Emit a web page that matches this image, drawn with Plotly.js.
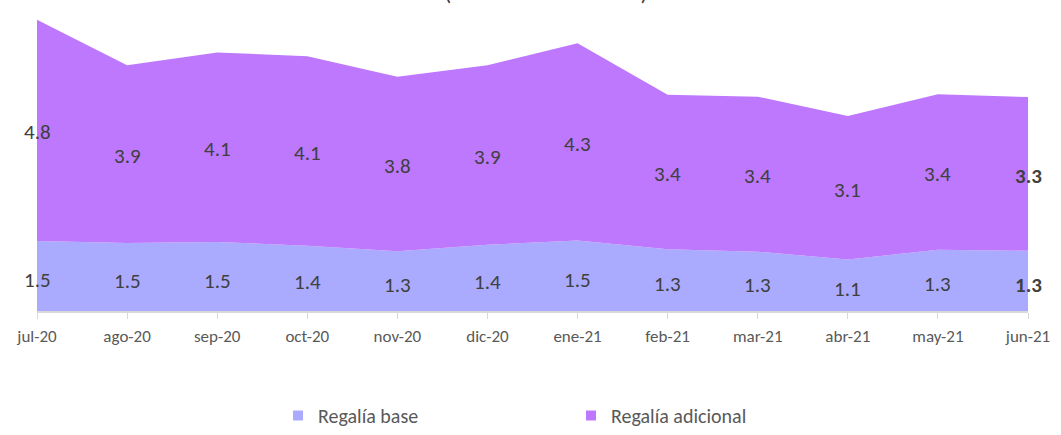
<!DOCTYPE html>
<html>
<head>
<meta charset="utf-8">
<script src="https://cdn.plot.ly/plotly-3.0.1.min.js"></script>
<style>html,body{margin:0;padding:0;background:#fff;}#chart{width:1061px;height:435px;}</style>
</head>
<body>
<div id="chart"></div>
<script>
const months = ['jul-20','ago-20','sep-20','oct-20','nov-20','dic-20','ene-21','feb-21','mar-21','abr-21','may-21','jun-21'];
const regaliaBase = [1.52,1.48,1.50,1.42,1.30,1.44,1.53,1.34,1.29,1.12,1.33,1.31];
const regaliaAdicional = [4.81,3.86,4.12,4.12,3.79,3.90,4.29,3.36,3.37,3.12,3.38,3.34];
const seriesNames = ['Regalía base','Regalía adicional'];
const titleText = '(millones de dólares)';

const colBase = '#aaabff';
const colAdic = '#bd78fd';
const font = 'Carlito, Lato, "Liberation Sans", sans-serif';

const traces = [
  {type:'scatter', x:months, y:regaliaBase, stackgroup:'one', mode:'none', fillcolor:colBase, name:seriesNames[0], showlegend:false, hoverinfo:'y'},
  {type:'scatter', x:months, y:regaliaAdicional, stackgroup:'one', mode:'none', fillcolor:colAdic, name:seriesNames[1], showlegend:false, hoverinfo:'y'},
  {type:'scatter', x:[null], y:[null], mode:'markers', marker:{symbol:'square', size:10, color:colBase}, name:seriesNames[0], showlegend:true},
  {type:'scatter', x:[null], y:[null], mode:'markers', marker:{symbol:'square', size:10, color:colAdic}, name:seriesNames[1], showlegend:true}
];

const annotations = [];
const last = months.length - 1;
months.forEach((m, i) => {
  const b = regaliaBase[i], a = regaliaAdicional[i];
  const bold = i === last;
  const fmt = v => bold ? '<b>' + v.toFixed(1) + '</b>' : v.toFixed(1);
  annotations.push({x:m, y:b/2, xref:'x', yref:'y', text:fmt(b), showarrow:false, yshift:-4,
    font:{family:font, size:21, color:'#404040'}});
  annotations.push({x:m, y:b + a/2, xref:'x', yref:'y', text:fmt(a), showarrow:false, yshift:-2,
    font:{family:font, size:21, color:'#404040'}});
});
annotations.push({x:0.514, y:1.012, xref:'paper', yref:'paper', xanchor:'center', yanchor:'bottom',
  text:titleText, showarrow:false, font:{family:font, size:24, color:'#404040'}});

const layout = {
  width:1061, height:435,
  margin:{l:37, r:33, t:12, b:124},
  paper_bgcolor:'#fff', plot_bgcolor:'#fff',
  showlegend:true,
  legend:{orientation:'h', traceorder:'normal', xref:'container', yref:'container',
    x:0.262, xanchor:'left', y:0.0, yanchor:'bottom',
    entrywidth:248, entrywidthmode:'pixels', itemwidth:30,
    font:{family:font, size:20, color:'#595959'}},
  xaxis:{type:'category', range:[0, 11], showgrid:false, zeroline:false,
    showline:true, linecolor:'#d9d9d9', linewidth:2, ticks:'outside', ticklen:6, tickwidth:1, tickcolor:'#d9d9d9',
    ticklabelstandoff:3,
    tickfont:{family:font, size:17, color:'#595959'}, fixedrange:true},
  yaxis:{range:[0, 6.5], visible:false, showgrid:false, zeroline:false, fixedrange:true},
  annotations:annotations
};

Plotly.newPlot('chart', traces, layout, {displayModeBar:false, staticPlot:true});
</script>
</body>
</html>
